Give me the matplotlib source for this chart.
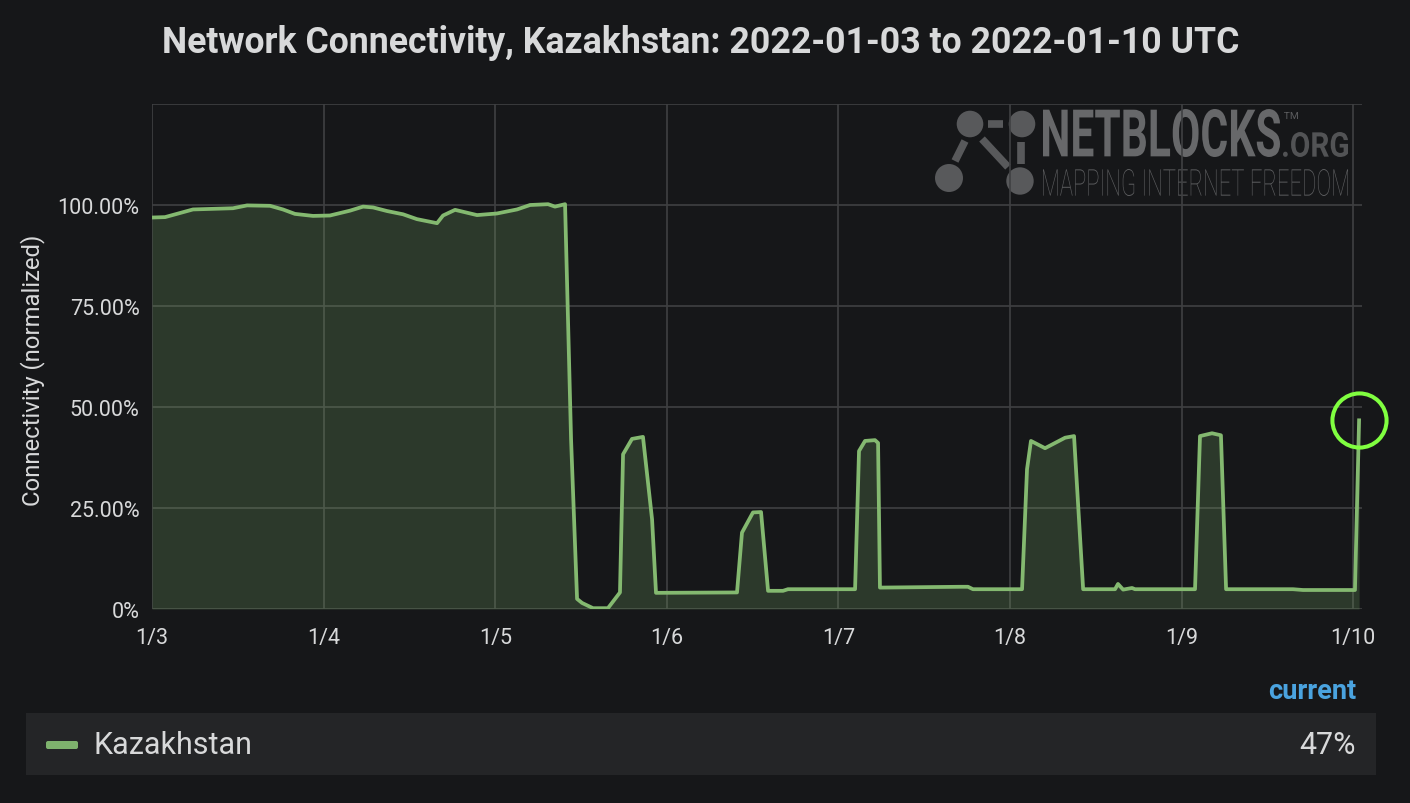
import pandas as pd
import matplotlib
matplotlib.use('Agg')
import matplotlib.pyplot as plt
from matplotlib.patches import Rectangle, Circle, PathPatch, FancyBboxPatch
from matplotlib.lines import Line2D
from matplotlib.textpath import TextPath
from matplotlib.font_manager import FontProperties
from matplotlib.transforms import Affine2D

# values: days since 2022-01-03 00:00 UTC and connectivity (%)
days = [0.000, 0.076, 0.239, 0.472, 0.554, 0.688, 0.763, 0.833, 0.938, 1.037,
        1.154, 1.230, 1.288, 1.370, 1.463, 1.544, 1.661, 1.696, 1.766, 1.894,
        2.010, 2.127, 2.203, 2.308, 2.348, 2.407, 2.442, 2.477, 2.506, 2.570,
        2.657, 2.727, 2.745, 2.797, 2.861, 2.914, 2.937, 3.409, 3.438, 3.502,
        3.549, 3.590, 3.677, 3.706, 4.097, 4.120, 4.155, 4.213, 4.231, 4.242,
        4.709, 4.755, 4.784, 5.070, 5.099, 5.122, 5.204, 5.321, 5.373, 5.426,
        5.612, 5.629, 5.659, 5.711, 5.728, 6.078, 6.107, 6.177, 6.229, 6.259,
        6.649, 6.707, 7.010, 7.034]
connectivity = [96.9, 97.0, 98.9, 99.2, 99.9, 99.8, 98.9, 97.8, 97.3, 97.4,
                98.6, 99.6, 99.4, 98.5, 97.7, 96.5, 95.5, 97.4, 98.8, 97.5,
                97.9, 98.9, 100.0, 100.2, 99.6, 100.2, 42.0, 2.5, 1.5, 0.2,
                0.2, 4.1, 38.3, 42.1, 42.6, 22.2, 4.0, 4.1, 18.9, 23.9,
                24.0, 4.5, 4.5, 4.9, 4.9, 39.1, 41.6, 41.8, 41.1, 5.3,
                5.5, 5.5, 4.9, 4.9, 34.6, 41.6, 39.8, 42.4, 42.8, 4.9,
                4.9, 6.2, 4.8, 5.2, 4.9, 4.9, 42.8, 43.5, 43.0, 4.9,
                4.9, 4.7, 4.7, 46.7]
tick_dates = ['2022-01-03', '2022-01-04', '2022-01-05', '2022-01-06',
              '2022-01-07', '2022-01-08', '2022-01-09', '2022-01-10']
tick_labels = ['1/3', '1/4', '1/5', '1/6', '1/7', '1/8', '1/9', '1/10']
y_ticks = [0, 25, 50, 75, 100, 125]
y_tick_labels = ['0%', '25.00%', '50.00%', '75.00%', '100.00%', '']
country = 'Kazakhstan'
title = 'Network Connectivity, Kazakhstan: 2022-01-03 to 2022-01-10 UTC'

BG = '#161719'
GREEN = '#7eb26d'
TEXT = '#d8d9da'
W, H = 1410, 804

plt.rcParams['font.family'] = ['Roboto', 'DejaVu Sans']

fig = plt.figure(figsize=(W / 100, H / 100), dpi=100, facecolor=BG)
px = Affine2D().scale(1 / W, 1 / H) + fig.transFigure   # pixel coords, origin bottom-left

ax = fig.add_axes([152 / W, (H - 610) / H, 1210 / W, 505 / H])
ax.set_facecolor('none')

start = pd.Timestamp('2022-01-03')
t = start + pd.to_timedelta(days, unit='D')

ax.fill_between(t, connectivity, 0, color=GREEN, alpha=0.22, lw=0, zorder=2)
ax.plot(t, connectivity, color='#84b970', lw=2.7, zorder=3)
# highlight on the latest value
ax.plot(t[-1], connectivity[-1], 'o', ms=39, mfc='none', mec='#80ff40', mew=2.9,
        zorder=4, clip_on=False)

ax.set_xlim(start, start + pd.Timedelta(days=7.051))
ax.set_ylim(0, 125)
ax.set_xticks(pd.to_datetime(tick_dates))
ax.set_xticklabels(tick_labels)
ax.set_yticks(y_ticks)
ax.set_yticklabels(y_tick_labels)
ax.tick_params(length=0, colors=TEXT, labelsize=15.5)
ax.tick_params(axis='y', pad=9)
ax.tick_params(axis='x', pad=13)
ax.grid(True, color='#3f4042', lw=1.2, zorder=1)
for s in ax.spines.values():
    s.set_visible(False)

fig.text(33 / W, (H - 370) / H, 'Connectivity (normalized)', rotation=90,
         ha='center', va='center', color=TEXT, fontsize=17.2)
fig.text(162 / W, (H - 53) / H, title, ha='left', va='baseline',
         color=TEXT, fontsize=25.7, fontweight='bold')


# watermark logo, drawn behind the grid
def logo_text(s, x0, y_top, w, h, weight, color):
    tp = TextPath((0, 0), s, size=100, prop=FontProperties(family='Roboto', weight=weight))
    e = tp.get_extents()
    tr = Affine2D().translate(-e.x0, -e.y0).scale(w / e.width, h / e.height)
    tr = tr.translate(x0, H - y_top - h)
    fig.add_artist(PathPatch(tr.transform_path(tp), transform=px, fc=color, lw=0, zorder=-1))


logo_text('NETBLOCKS', 1043, 110, 237, 48, 'bold', '#67686a')
logo_text('.ORG', 1283, 133, 65, 25, 'bold', '#525355')
logo_text('TM', 1284, 113, 14, 7, 'normal', '#5a5b5d')
logo_text('MAPPING INTERNET FREEDOM', 1043, 170, 305, 27, 'light', '#5c5d5f')

ICON = '#58595b'
for cx, cy, r in [(970, 125, 13.3), (1022, 125, 13.3), (949, 179, 14), (1020, 182, 13.7)]:
    fig.add_artist(Circle((cx, H - cy), r, transform=px, fc=ICON, lw=0, zorder=-1))
for (x1, y1), (x2, y2) in [((988, 125), (1003, 125)), ((1021, 143), (1021, 165)),
                           ((982, 140), (1008, 168)), ((965, 142), (955, 162))]:
    fig.add_artist(Line2D([x1, x2], [H - y1, H - y2], transform=px, color=ICON,
                          lw=5.5, solid_capstyle='butt', zorder=-1))

# legend table
fig.add_artist(Rectangle((26, H - 776), 1350, 62, transform=px, fc='#242527', lw=0))
fig.add_artist(FancyBboxPatch((46, H - 750), 32, 8, boxstyle='round,pad=0,rounding_size=2',
                              transform=px, fc=GREEN, lw=0))
fig.text(94 / W, (H - 754) / H, country, ha='left', va='baseline', color=TEXT, fontsize=22)
fig.text(1356 / W, (H - 754) / H, f'{round(connectivity[-1])}%', ha='right',
         va='baseline', color=TEXT, fontsize=22)
fig.text(1356 / W, (H - 699) / H, 'current', ha='right', va='baseline',
         color='#4aa3df', fontsize=19.5, fontweight='bold')

fig.savefig('out.png', dpi=100, facecolor=BG)
